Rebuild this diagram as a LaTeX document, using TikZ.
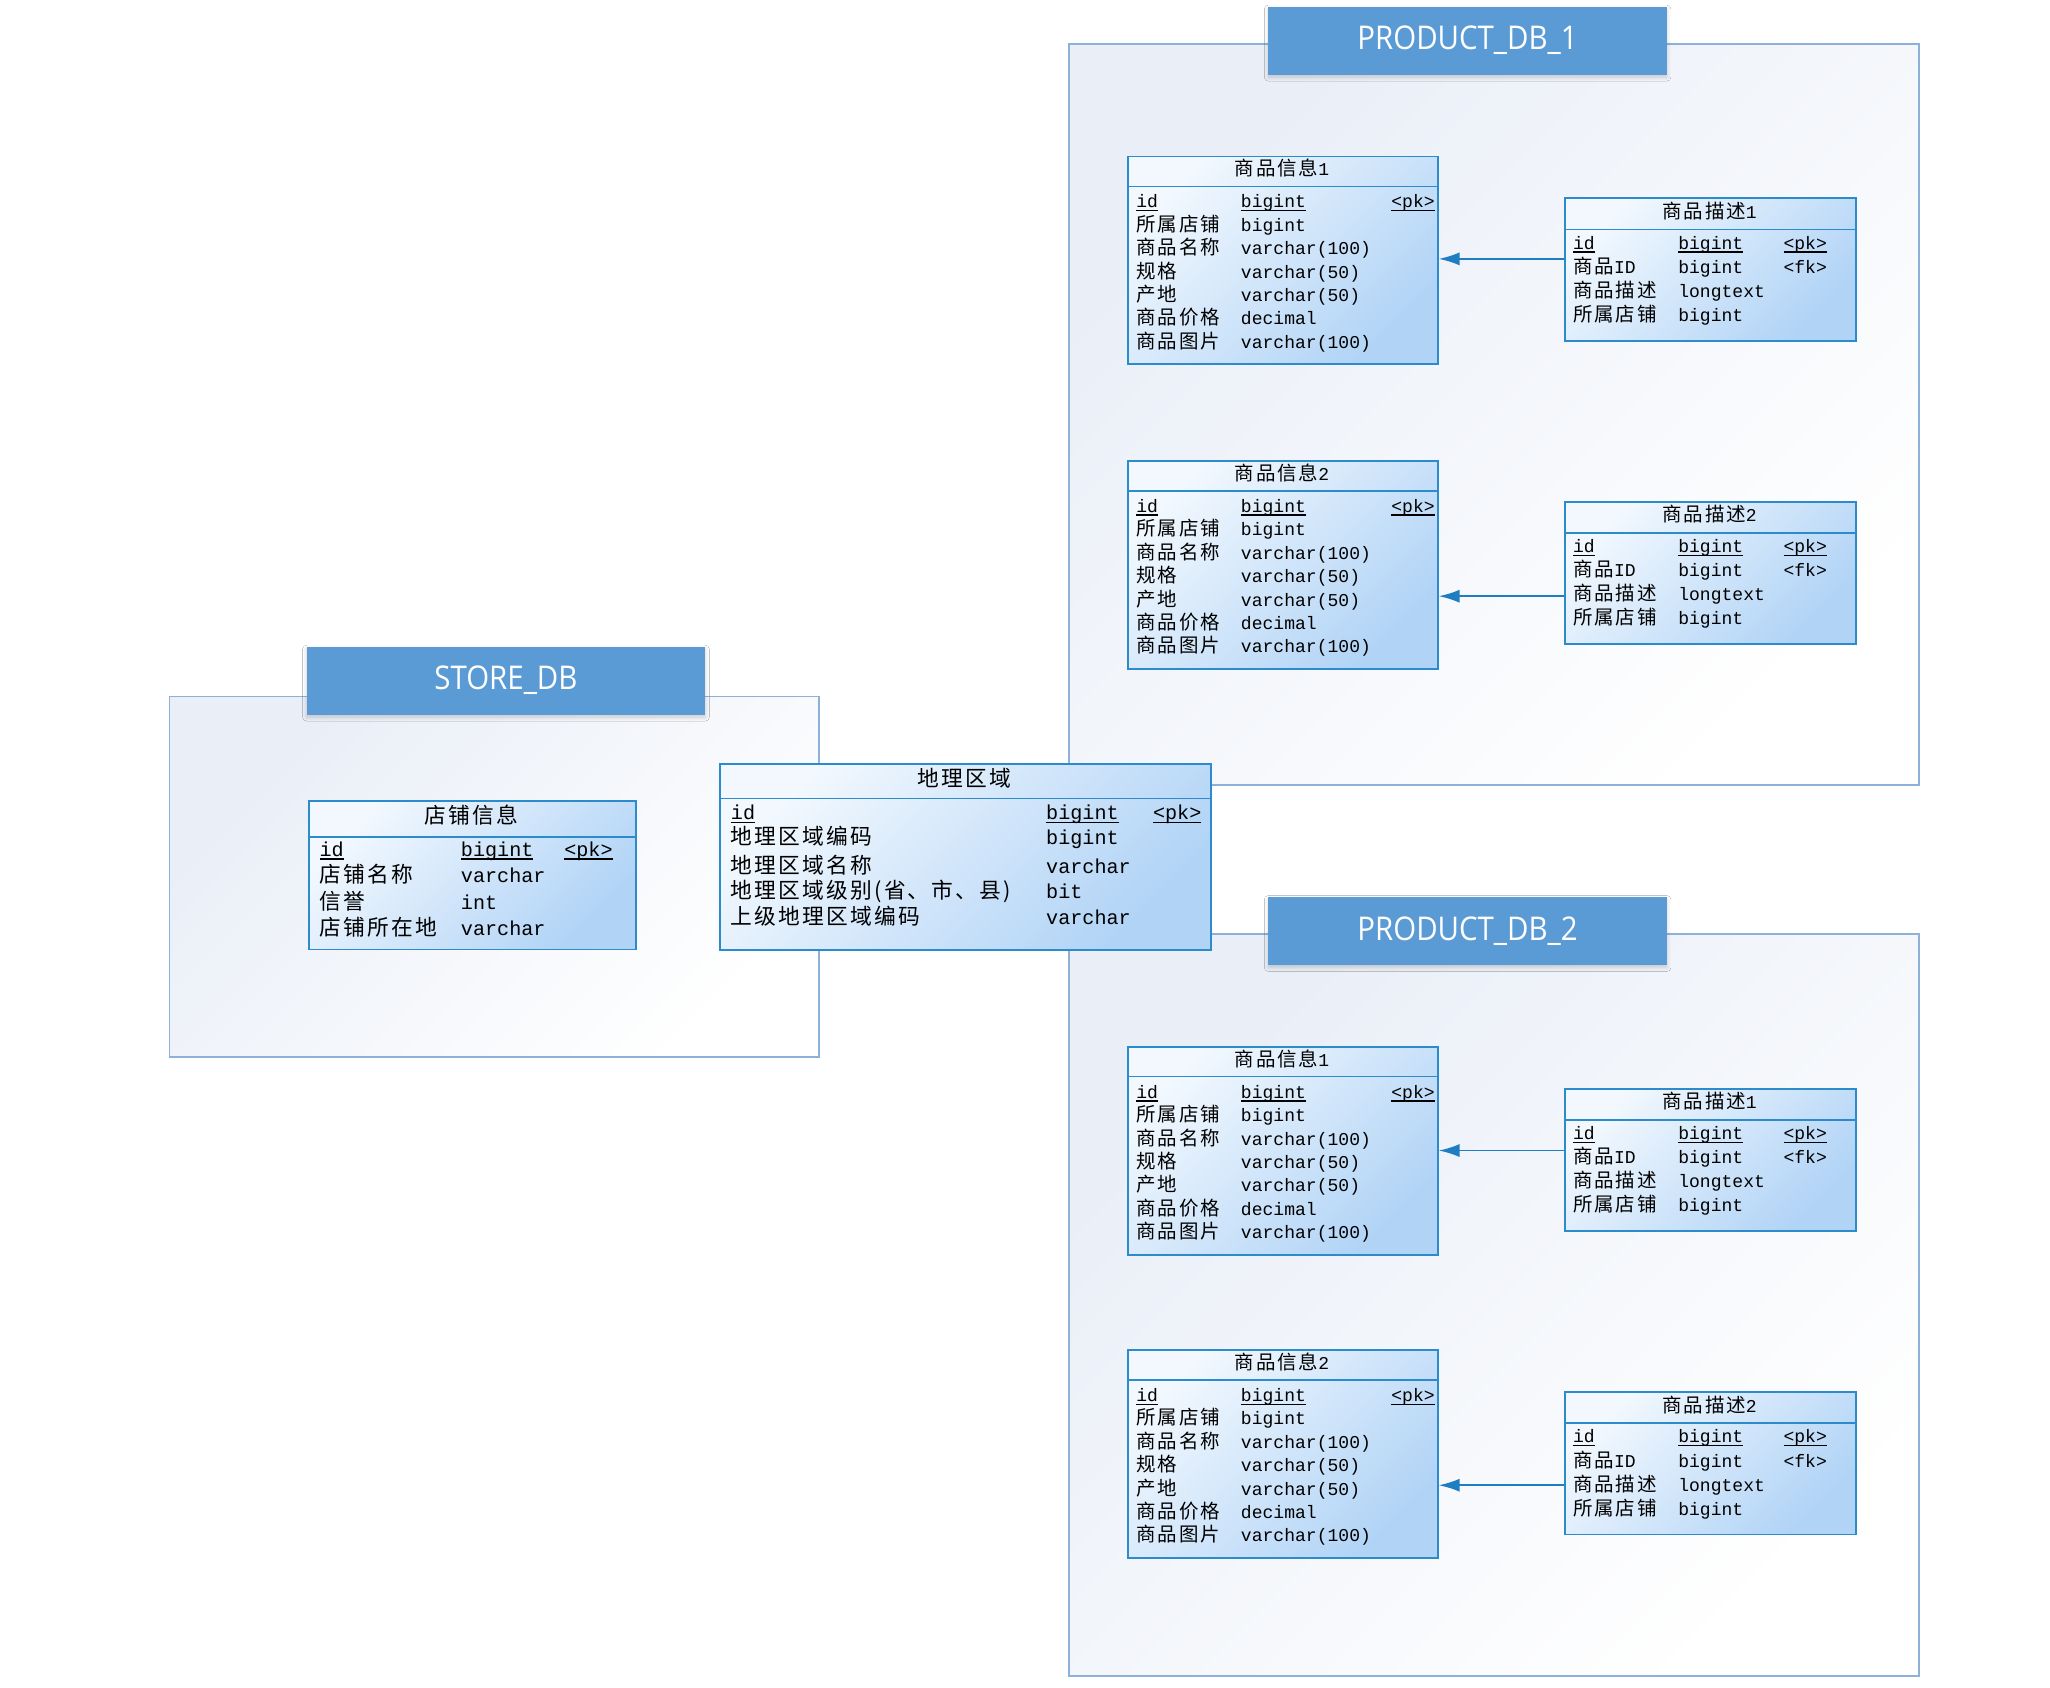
\documentclass[tikz,border=0pt]{standalone}
\usepackage{fontspec}
\setmonofont{Liberation Mono}
\newfontfamily\cjk[Scale=1.08,LetterSpace=10]{Noto Sans CJK SC}
\newfontfamily\hdrfont[FakeStretch=0.9]{Open Sans}
\usetikzlibrary{arrows.meta,shadows.blur}
\definecolor{tblborder}{HTML}{2C8BCB}
\definecolor{tblA}{HTML}{F2F8FE}
\definecolor{tblB}{HTML}{B0D3F6}
\definecolor{connblue}{HTML}{1F7EC2}
\definecolor{hdrblue}{HTML}{5B9BD5}
\definecolor{contborder}{HTML}{8EB1DA}
\definecolor{contA}{HTML}{E9EEF7}
\newcommand\zh[1]{{\cjk #1}}
\newcommand\ul[1]{\setbox0\hbox{#1}\rlap{\rule[-2.6pt]{\wd0}{1.1pt}}\box0}
\tikzset{
  cont/.style={anchor=north west, draw=contborder, line width=1.3pt, inner sep=0,
    top color=contA, bottom color=white, shading angle=45},
  hdr/.style={fill=hdrblue, minimum width=305, minimum height=52, text=white, inner sep=0,
    font=\hdrfont\fontsize{25}{30}\selectfont,
    blur shadow={shadow xshift=0pt, shadow yshift=-2pt, shadow blur radius=3pt, shadow opacity=18}},
  tbl/.style={anchor=north west, draw=tblborder, line width=1.4pt, inner sep=0,
    top color=tblA, bottom color=tblB, shading angle=45},
  sep/.style={draw=tblborder, line width=1.2pt},
  cs/.style={anchor=west, inner sep=0, text height=12pt, text depth=3pt, text=black,
    font=\fontsize{13.8}{16}\selectfont\ttfamily},
  cst/.style={cs, anchor=center},
  cb/.style={anchor=west, inner sep=0, text height=13pt, text depth=3pt, text=black,
    font=\fontsize{15.4}{18}\selectfont\ttfamily},
  cbt/.style={cb, anchor=center},
  conn/.style={draw=connblue, line width=1.4pt, -{Latex[length=16pt,width=10pt]}}
}
% info table: name, top, number
\newcommand\infotab[3]{%
\begin{scope}[shift={(862,#2)}]
\node[tbl, minimum width=237, minimum height=159] (#1) at (0,0) {};
\draw[sep] ([yshift=-23.5pt]#1.north west) -- ([yshift=-23.5pt]#1.north east);
\node[cst] (#1t) at (118.5,11) {\zh{商品信息}#3};
\node[cs] (#1a1) at (7,35.5) {\ul{id}};
\node[cs] (#1b1) at (87,35.5) {\ul{bigint}};
\node[cs] (#1c1) at (202,35.5) {\ul{<pk>}};
\node[cs] (#1a2) at (7,53.4) {\zh{所属店铺}};
\node[cs] (#1b2) at (87,53.4) {bigint};
\node[cs] (#1a3) at (7,71.3) {\zh{商品名称}};
\node[cs] (#1b3) at (87,71.3) {varchar(100)};
\node[cs] (#1a4) at (7,89.2) {\zh{规格}};
\node[cs] (#1b4) at (87,89.2) {varchar(50)};
\node[cs] (#1a5) at (7,107.1) {\zh{产地}};
\node[cs] (#1b5) at (87,107.1) {varchar(50)};
\node[cs] (#1a6) at (7,125) {\zh{商品价格}};
\node[cs] (#1b6) at (87,125) {decimal};
\node[cs] (#1a7) at (7,142.9) {\zh{商品图片}};
\node[cs] (#1b7) at (87,142.9) {varchar(100)};
\end{scope}}
% description table: name, top, number
\newcommand\desctab[3]{%
\begin{scope}[shift={(1196,#2)}]
\node[tbl, minimum width=223, minimum height=109] (#1) at (0,0) {};
\draw[sep] ([yshift=-24.5pt]#1.north west) -- ([yshift=-24.5pt]#1.north east);
\node[cst] (#1t) at (111.5,11.5) {\zh{商品描述}#3};
\node[cs] (#1a1) at (7,35.2) {\ul{id}};
\node[cs] (#1b1) at (87.5,35.2) {\ul{bigint}};
\node[cs] (#1c1) at (168,35.2) {\ul{<pk>}};
\node[cs] (#1a2) at (7,53.6) {\zh{商品}ID};
\node[cs] (#1b2) at (87.5,53.6) {bigint};
\node[cs] (#1c2) at (168,53.6) {<fk>};
\node[cs] (#1a3) at (7,72) {\zh{商品描述}};
\node[cs] (#1b3) at (87.5,72) {longtext};
\node[cs] (#1a4) at (7,90.4) {\zh{所属店铺}};
\node[cs] (#1b4) at (87.5,90.4) {bigint};
\end{scope}}
\begin{document}
\begin{tikzpicture}[x=1pt,y=-1pt]
\useasboundingbox (0,0) rectangle (1568,1291);
\fill[white] (0,0) rectangle (1568,1291);
% containers
\node[cont, minimum width=650, minimum height=567] (cp1) at (817,33) {};
\node[cont, minimum width=497, minimum height=276] (cst) at (129,532) {};
\node[cont, minimum width=650, minimum height=567] (cp2) at (817,714) {};
\node[hdr] (hp1) at (1122.5,31) {PRODUCT\_DB\_1};
\node[hdr] (hst) at (387,520.5) {STORE\_DB};
\node[hdr] (hp2) at (1122.5,712) {PRODUCT\_DB\_2};
% product db 1
\infotab{ia}{119}{1}
\desctab{da}{151}{1}
\infotab{ib}{352}{2}
\desctab{db}{383}{2}
% product db 2
\infotab{ic}{800}{1}
\desctab{dc}{832}{1}
\infotab{id}{1032}{2}
\desctab{dd}{1064}{2}
% store table
\begin{scope}[shift={(235.8,612)}]
\node[tbl, minimum width=250, minimum height=113.5] (st) at (0,0) {};
\draw[sep] ([yshift=-28pt]st.north west) -- ([yshift=-28pt]st.north east);
\node[cbt] (stt) at (125,12.6) {\zh{店铺信息}};
\node[cb] (sta1) at (8.4,38) {\ul{id}};
\node[cb] (stb1) at (116.6,38) {\ul{bigint}};
\node[cb] (stc1) at (195.6,38) {\ul{<pk>}};
\node[cb] (sta2) at (8.4,58.3) {\zh{店铺名称}};
\node[cb] (stb2) at (116.6,58.3) {varchar};
\node[cb] (sta3) at (8.4,78.6) {\zh{信誉}};
\node[cb] (stb3) at (116.6,78.6) {int};
\node[cb] (sta4) at (8.4,98.9) {\zh{店铺所在地}};
\node[cb] (stb4) at (116.6,98.9) {varchar};
\end{scope}
% geo table
\begin{scope}[shift={(550.2,583.4)}]
\node[tbl, minimum width=375.3, minimum height=142.6] (geo) at (0,0) {};
\draw[sep] ([yshift=-27.2pt]geo.north west) -- ([yshift=-27.2pt]geo.north east);
\node[cbt] (geot) at (187.6,13.2) {\zh{地理区域}};
\node[cb] (gea1) at (8.7,38.6) {\ul{id}};
\node[cb] (geb1) at (249.8,38.6) {\ul{bigint}};
\node[cb] (gec1) at (331.5,38.6) {\ul{<pk>}};
\node[cb] (gea2) at (8.7,57.6) {\zh{地理区域编码}};
\node[cb] (geb2) at (249.8,57.6) {bigint};
\node[cb] (gea3) at (8.7,79.6) {\zh{地理区域名称}};
\node[cb] (geb3) at (249.8,79.6) {varchar};
\node[cb] (gea4) at (8.7,98.6) {\zh{地理区域级别(省、市、县)}};
\node[cb] (geb4) at (249.8,98.6) {bit};
\node[cb] (gea5) at (8.7,119) {\zh{上级地理区域编码}};
\node[cb] (geb5) at (249.8,119) {varchar};
\end{scope}
% connectors
\coordinate (ka) at (1150,198);
\coordinate (kb) at (1150,456);
\coordinate (kc) at (1150,880);
\coordinate (kd) at (1150,1136);
\draw[conn] (ka -| da.west) -- (ka -| ia.east);
\draw[conn] (kb -| db.west) -- (kb -| ib.east);
\draw[conn] (kc -| dc.west) -- (kc -| ic.east);
\draw[conn] (kd -| dd.west) -- (kd -| id.east);
\end{tikzpicture}
\end{document}
